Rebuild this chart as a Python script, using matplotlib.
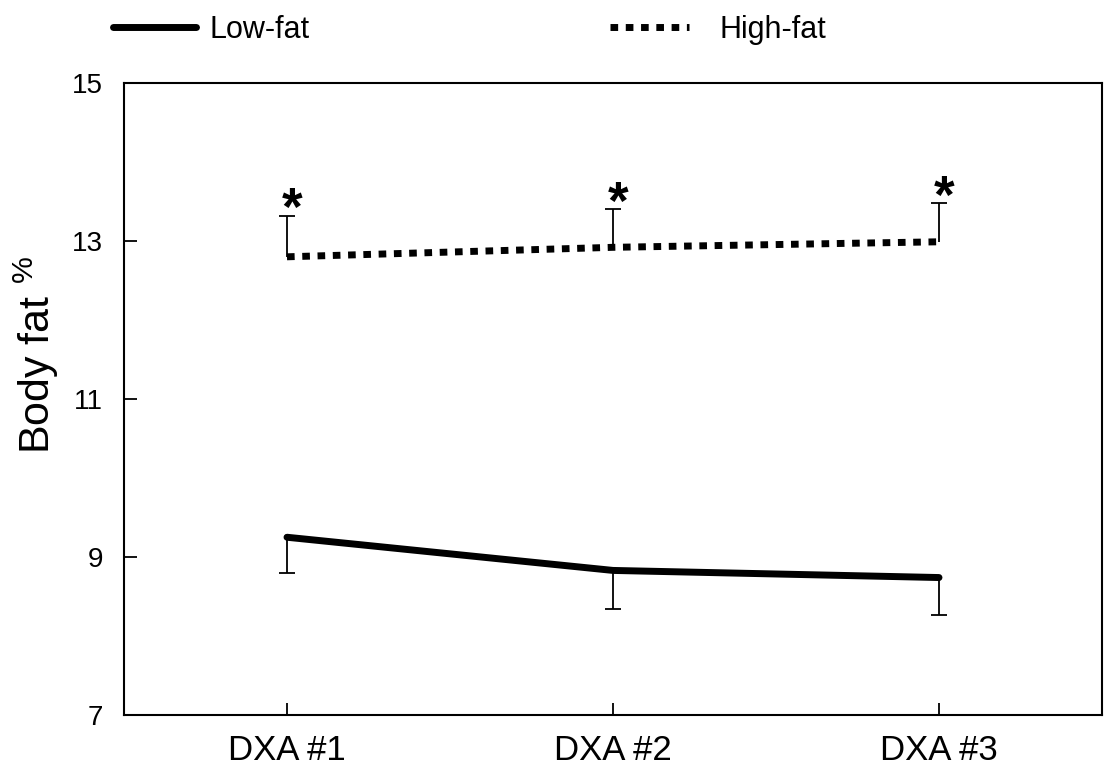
import matplotlib
matplotlib.use('Agg')
import matplotlib.pyplot as plt

# values
visits = ['DXA #1', 'DXA #2', 'DXA #3']
low_fat = [9.25, 8.83, 8.74]
low_fat_err = [0.45, 0.49, 0.48]
high_fat = [12.80, 12.92, 12.99]
high_fat_err = [0.52, 0.48, 0.49]
y_ticks = [7, 9, 11, 13, 15]

plt.rcParams['font.family'] = ['Liberation Sans', 'DejaVu Sans']
plt.rcParams['mathtext.fontset'] = 'custom'
plt.rcParams['mathtext.rm'] = 'Liberation Sans'
plt.rcParams['mathtext.default'] = 'regular'

fig = plt.figure(figsize=(11.04, 7.79), dpi=100)
ax = fig.add_axes([124 / 1104, 64 / 779, 978 / 1104, 632 / 779])

x = list(range(1, len(visits) + 1))

ln_low, = ax.plot(x, low_fat, color='black', lw=5, solid_capstyle='round',
                  solid_joinstyle='round', zorder=3)
ln_high, = ax.plot(x, high_fat, color='black', lw=5, dashes=(1.1, 1.1),
                   dash_capstyle='butt', zorder=3)

# one-sided error bars: down for low-fat, up for high-fat
zeros = [0] * len(x)
_, caps, _ = ax.errorbar(x, low_fat, yerr=[low_fat_err, zeros], fmt='none',
                         ecolor='black', elinewidth=1.3, capsize=6,
                         capthick=1.3, zorder=2)
caps[1].set_visible(False)
_, caps, _ = ax.errorbar(x, high_fat, yerr=[zeros, high_fat_err], fmt='none',
                         ecolor='black', elinewidth=1.3, capsize=6,
                         capthick=1.3, zorder=2)
caps[0].set_visible(False)

for xi, yi, ei in zip(x, high_fat, high_fat_err):
    ax.annotate('*', xy=(xi, yi + ei), xytext=(4, -7), textcoords='offset points',
                ha='center', va='baseline', fontsize=38, fontweight='bold')

ax.set_xlim(0.5, 3.5)
ax.set_ylim(7, 15)
ax.set_xticks(x)
ax.set_xticklabels(visits, fontsize=25)
ax.set_yticks(y_ticks)
ax.set_yticklabels([str(t) for t in y_ticks], fontsize=20)
ax.tick_params(axis='x', direction='in', length=9, width=1.3, pad=14)
ax.tick_params(axis='y', direction='in', length=9, width=1.3, pad=15)
for sp in ax.spines.values():
    sp.set_linewidth(1.5)
ax.set_ylabel(r'Body fat $^{\%}$', fontsize=31)
ax.yaxis.set_label_coords(-0.064, 0.57)

fig.legend(handles=[ln_low], labels=['Low-fat'], loc='center left',
           bbox_to_anchor=(113 / 1104, 1 - 30 / 779), frameon=False,
           fontsize=22, handlelength=2.7, handletextpad=0.45,
           borderpad=0, borderaxespad=0)
fig.legend(handles=[ln_high], labels=['High-fat'], loc='center left',
           bbox_to_anchor=(610 / 1104, 1 - 30 / 779), frameon=False,
           fontsize=22, handlelength=2.6, handletextpad=1.0,
           borderpad=0, borderaxespad=0)

fig.savefig('out.png', dpi=100)
